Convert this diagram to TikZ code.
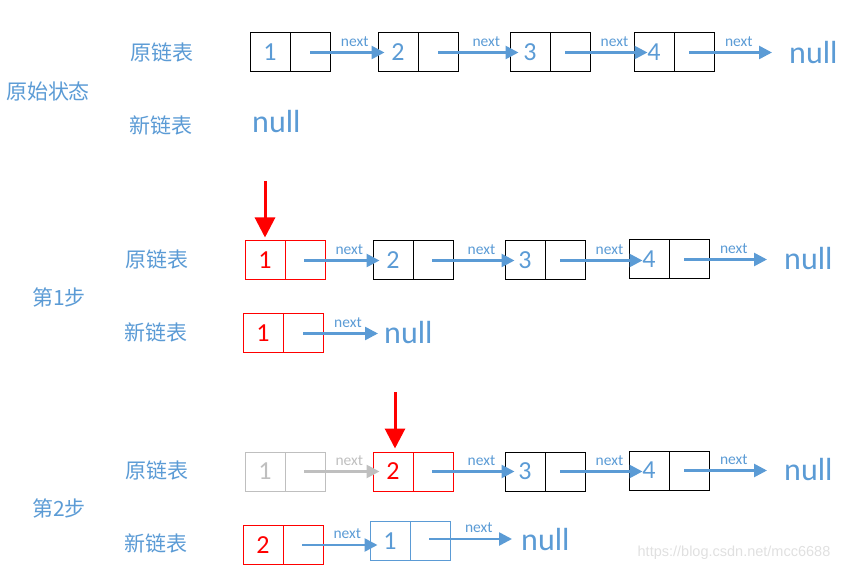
\documentclass[tikz,border=0pt]{standalone}
\usepackage{fontspec}
\setmainfont{Carlito}
\newfontfamily\cjk{Noto Sans CJK SC}
\newfontfamily\wmfont{Liberation Sans}
\usetikzlibrary{arrows.meta,calc,positioning}
\definecolor{txtblue}{RGB}{91,155,213}
\definecolor{softgray}{RGB}{191,191,191}
\newcommand{\cellval}[1]{\makebox[40pt]{#1}\makebox[40pt]{}}
\tikzset{
    cell/.style ={draw=#1, line width=1pt, minimum width=80pt, minimum height=39pt,
        inner sep=0pt, text=txtblue, font=\fontsize{26}{30}\selectfont,
        path picture={\draw[#1,line width=1pt] (path picture bounding box.north) -- (path picture bounding box.south);}},
    cell/.default=black,
    nextarrow/.style={draw=txtblue, line width=2.6pt, -{Triangle[length=13pt,width=13pt]}},
    nextlbl/.style={pos=0.6, above=4pt, inner sep=1pt, text=txtblue, font=\fontsize{15.5}{18}\selectfont},
    pointer/.style={draw=red, line width=3pt, -{Triangle[length=20pt,width=20pt]}},
    rowlbl/.style={text=txtblue, font=\cjk\fontsize{21}{24}\selectfont},
    nulltxt/.style={anchor=west, inner sep=0pt, text=txtblue, font=\fontsize{32}{36}\selectfont}
}
\begin{document}
\begin{tikzpicture}[x=1pt,y=-1pt]
    \useasboundingbox (0,0) rectangle (847,572);
    % original state
    \node[rowlbl] (lblO) at (162,52) {原链表};
    \node[rowlbl] (stateO) at (48,91) {原始状态};
    \node[rowlbl] (lblNO) at (161,125) {新链表};
    \node[cell] (o1) at (290,52.5) {\cellval{1}};
    \node[cell] (o2) at (418,52.5) {\cellval{2}};
    \node[cell] (o3) at (550,52.5) {\cellval{3}};
    \node[cell] (o4) at (674,52.5) {\cellval{4}};
    \node[nulltxt] (nullO) at (789,52.5) {null};
    \node[nulltxt] (nullNO) at (252,122) {null};

    \draw[nextarrow] ($(o1.center)+(20,0)$) -- ($(o1.center -| o2.west)+(7,0)$) node[nextlbl] {next};
    \draw[nextarrow] ($(o2.center)+(20,0)$) -- ($(o2.center -| o3.west)+(9,0)$) node[nextlbl] {next};
    \draw[nextarrow] ($(o3.center)+(15,0)$) -- ($(o3.center -| o4.west)+(14,0)$) node[nextlbl] {next};
    \draw[nextarrow] ($(o4.center)+(15,0)$) -- ($(o4.center -| nullO.west)+(-17,0)$) node[nextlbl] {next};

    % step 1
    \node[rowlbl] (lblP) at (157,259) {原链表};
    \node[rowlbl] (stepP) at (59,297) {第1步};
    \node[rowlbl] (lblNP) at (156,332) {新链表};
    \coordinate (ptrP) at (265,181);
    \node[cell=red,text=red] (p1) at (285,260.5) {\cellval{1}};
    \node[cell] (p2) at (413,260.5) {\cellval{2}};
    \node[cell] (p3) at (545,260.5) {\cellval{3}};
    \node[cell] (p4) at (669,259.5) {\cellval{4}};
    \node[nulltxt] (nullP) at (784,259) {null};
    \node[cell=red,text=red] (n1) at (283,333.5) {\cellval{1}};
    \node[nulltxt] (nullNP) at (384,333) {null};

    \draw[pointer] (ptrP) -- ($(ptrP |- p1.north)+(0,-3)$);
    \draw[nextarrow] ($(p1.center)+(19,0)$) -- ($(p1.center -| p2.west)+(7,0)$) node[nextlbl] {next};
    \draw[nextarrow] ($(p2.center)+(19,0)$) -- ($(p2.center -| p3.west)+(10,0)$) node[nextlbl] {next};
    \draw[nextarrow] ($(p3.center)+(15,0)$) -- ($(p3.center -| p4.west)+(14,0)$) node[nextlbl] {next};
    \draw[nextarrow] ($(p4.center)+(15,0)$) -- ($(p4.center -| nullP.west)+(-17,0)$) node[nextlbl] {next};
    \draw[nextarrow] ($(n1.center)+(20,0)$) -- ($(n1.center -| nullNP.west)+(-6,0)$) node[nextlbl] {next};

    % step 2
    \node[rowlbl] (lblQ) at (157,470) {原链表};
    \node[rowlbl] (stepQ) at (59,508) {第2步};
    \node[rowlbl] (lblNQ) at (156,543) {新链表};
    \coordinate (ptrQ) at (395,392);
    \node[cell=softgray,text=softgray] (q1) at (285,471.5) {\cellval{1}};
    \node[cell=red,text=red] (q2) at (413,471.5) {\cellval{2}};
    \node[cell] (q3) at (545,471.5) {\cellval{3}};
    \node[cell] (q4) at (669,470.5) {\cellval{4}};
    \node[nulltxt] (nullQ) at (784,470) {null};
    \node[cell=red,text=red] (m1) at (283,545) {\cellval{2}};
    \node[cell=txtblue] (m2) at (410,541) {\cellval{1}};
    \node[nulltxt] (nullM) at (521,540) {null};

    \draw[pointer] (ptrQ) -- ($(ptrQ |- q2.north)+(0,-3)$);
    \draw[nextarrow,draw=softgray] ($(q1.center)+(19,0)$) -- ($(q1.center -| q2.west)+(7,0)$) node[nextlbl,text=softgray] {next};
    \draw[nextarrow] ($(q2.center)+(19,0)$) -- ($(q2.center -| q3.west)+(10,0)$) node[nextlbl] {next};
    \draw[nextarrow] ($(q3.center)+(15,0)$) -- ($(q3.center -| q4.west)+(14,0)$) node[nextlbl] {next};
    \draw[nextarrow] ($(q4.center)+(15,0)$) -- ($(q4.center -| nullQ.west)+(-17,0)$) node[nextlbl] {next};
    \draw[nextarrow] ($(m1.center)+(19,0)$) -- ($(m1.center -| m2.west)+(8,0)$) node[nextlbl] {next};
    \draw[nextarrow] ($(m2.center)+(19,-2)$) -- ($(m2.center -| nullM.west)+(-9,-2)$) node[nextlbl] {next};

    \node[text=black!12, font=\wmfont\fontsize{14.5}{17}\selectfont] (wmark) at (734,553) {https://blog.csdn.net/mcc6688};
\end{tikzpicture}
\end{document}
